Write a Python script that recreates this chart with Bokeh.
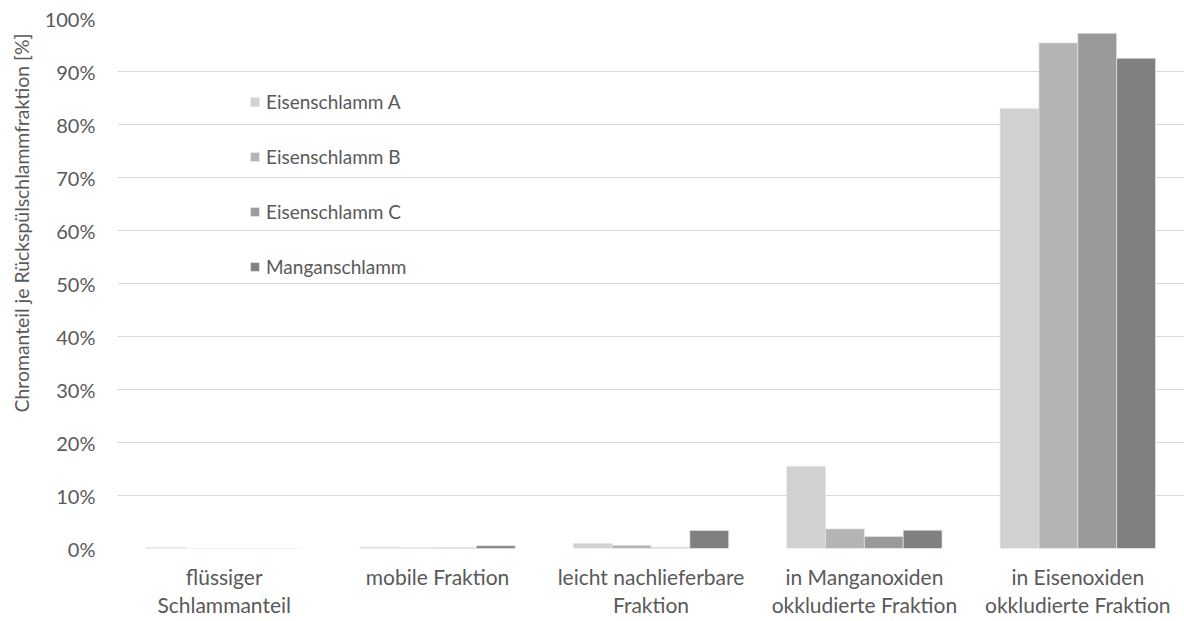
import math
from bokeh.plotting import figure
from bokeh.models import (ColumnDataSource, Range1d, NumeralTickFormatter, FixedTicker,
                          Legend, LegendItem, Title)
from bokeh.transform import dodge
from bokeh.embed import file_html
from bokeh.resources import INLINE

categories = ["flüssiger\nSchlammanteil", "mobile Fraktion", "leicht nachlieferbare\nFraktion",
              "in Manganoxiden\nokkludierte Fraktion", "in Eisenoxiden\nokkludierte Fraktion"]
series_names = ["Eisenschlamm A", "Eisenschlamm B", "Eisenschlamm C", "Manganschlamm"]
eisen_a = [0.002, 0.0025, 0.0095, 0.155, 0.830]
eisen_b = [0.0, 0.0015, 0.006, 0.037, 0.954]
eisen_c = [0.0, 0.0015, 0.002, 0.0226, 0.972]
mangan = [0.0, 0.005, 0.034, 0.0345, 0.925]
colors = ["#d1d1d1", "#b4b4b4", "#9a9a9a", "#808080"]
y_ticks = [i / 10 for i in range(11)]
y_title = "Chromanteil je Rückspülschlammfraktion [%]"

FONT = "Lato"
TXT = "#595959"

src = ColumnDataSource(dict(cat=categories, a=eisen_a, b=eisen_b, c=eisen_c, m=mangan))

p = figure(x_range=categories, y_range=Range1d(0, 1),
           frame_width=1067, frame_height=530,
           output_backend="svg", toolbar_location=None,
           min_border_left=117, min_border_right=0, min_border_top=18, min_border_bottom=70)
p.x_range.range_padding = 0
p.outline_line_color = None

bw = 0.182
offs = [-1.5 * bw, -0.5 * bw, 0.5 * bw, 1.5 * bw]
renderers = []
for col, off, c in zip(["a", "b", "c", "m"], offs, colors):
    r = p.vbar(x=dodge("cat", off, range=p.x_range), top=col, width=bw, source=src,
               fill_color=c, line_color="#e4e4e4", line_width=0.7)
    renderers.append(r)

p.yaxis.ticker = FixedTicker(ticks=y_ticks)
p.yaxis.formatter = NumeralTickFormatter(format="0%")
for ax in (p.xaxis, p.yaxis):
    ax.axis_line_color = None
    ax.major_tick_line_color = None
    ax.minor_tick_line_color = None
    ax.major_tick_out = 0
    ax.major_tick_in = 0
    ax.minor_tick_out = 0
    ax.major_label_text_font = FONT
    ax.major_label_text_color = TXT
p.yaxis.major_label_text_font_size = "20px"
p.xaxis.major_label_text_font_size = "21px"
p.yaxis.major_label_standoff = 22
p.xaxis.major_label_standoff = 15
p.xaxis.major_label_text_line_height = 1.14

p.xgrid.grid_line_color = None
p.ygrid.grid_line_color = "#d9d9d9"
p.ygrid.grid_line_width = 1

title = Title(text=y_title, align="left", offset=136, vertical_align="middle",
              text_font=FONT, text_font_size="19.4px", text_font_style="normal",
              text_color=TXT, standoff=15)
p.add_layout(title, "left")

legend = Legend(items=[LegendItem(label=n, renderers=[r]) for n, r in zip(series_names, renderers)],
                location=(132, 270))
legend.label_text_font = FONT
legend.label_text_font_size = "19px"
legend.label_text_color = TXT
legend.glyph_width = 11
legend.glyph_height = 11
legend.label_height = 20
legend.spacing = 32
legend.padding = 0
legend.margin = 0
legend.label_standoff = 6
legend.border_line_color = None
legend.background_fill_alpha = 0
p.add_layout(legend, "center")

open("out.html", "w").write(file_html(p, INLINE))
